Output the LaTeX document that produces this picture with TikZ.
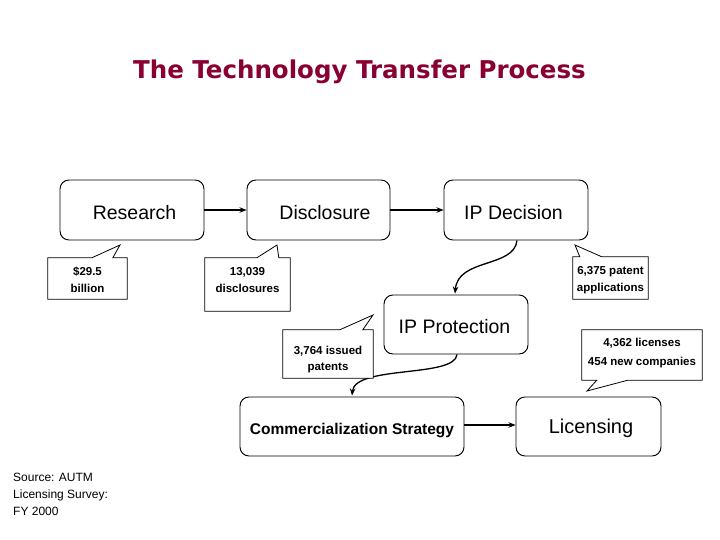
\documentclass[tikz,border=0pt]{standalone}
\usepackage{fontspec}
\setmainfont{Liberation Sans}
\newfontfamily\titlefont{DejaVu Sans}
\usetikzlibrary{arrows.meta,calc}
\definecolor{titlered}{RGB}{137,0,51}
\newcommand\bxtxt[3]{\raisebox{#2}[\height][\depth]{\hspace*{#1}#3}}
\begin{document}
\begin{tikzpicture}[x=1pt,y=-1pt,
  procbox/.style={draw=black,line width=0.95pt,rounded corners=9pt,inner sep=0pt,
    font=\fontsize{19.5}{22}\selectfont},
  cbox/.style={draw=none,inner sep=0pt},
  ctext/.style={align=center,inner sep=0pt,font=\fontsize{11.5}{17}\selectfont\bfseries},
  cline/.style={draw=black,line width=0.8pt,fill=white,line join=miter},
  flow/.style={line width=1.3pt,-{Stealth[length=7pt,width=5.5pt]}}
]
\useasboundingbox (0,0) rectangle (720,540);
\fill[white] (0,0) rectangle (720,540);

\node[font=\titlefont\bfseries\fontsize{24.5}{28}\selectfont,text=titlered,inner sep=0pt] (title) at (359.5,71.5) {The Technology Transfer Process};

% process boxes
\node[procbox,minimum width=144pt,minimum height=60pt] (research) at (132,210) {\bxtxt{5pt}{-2.5pt}{Research}};
\node[procbox,minimum width=143pt,minimum height=60pt] (disclosure) at (318.5,210) {\bxtxt{13pt}{-2.5pt}{Disclosure}};
\node[procbox,minimum width=144pt,minimum height=60pt] (ipdec) at (516,210) {\bxtxt{-5pt}{-2.5pt}{IP Decision}};
\node[procbox,minimum width=144pt,minimum height=59pt] (ipprot) at (456,324.5) {\bxtxt{-3pt}{-2pt}{IP Protection}};
\node[procbox,minimum width=224pt,minimum height=59pt,font=\fontsize{15.5}{18}\selectfont\bfseries] (comm) at (352,426.5) {\bxtxt{0pt}{-4.5pt}{Commercialization Strategy}};
\node[procbox,minimum width=145pt,minimum height=59pt,font=\fontsize{20}{22}\selectfont] (lic) at (588.5,426.5) {\bxtxt{5pt}{-2pt}{Licensing}};

% connectors
\draw[flow] (research.east) -- (disclosure.west);
\draw[flow] (disclosure.east) -- (ipdec.west);
\draw[flow] ($(comm.east)+(0,-1.5)$) -- ($(lic.west)+(0,-1.5)$);
\coordinate (d1) at ($(ipdec.south)+(1,0)$);
\coordinate (p1) at ($(ipprot.north)+(-1,-1)$);
\draw[flow] (d1) .. controls (514,268) and (458,258) .. (p1);
\coordinate (d2) at ($(ipprot.south)+(1,0)$);
\coordinate (p2) at ($(comm.north)+(0,-1)$);
\draw[flow] (d2) .. controls (455,378) and (355,365) .. (p2);

% callouts
\node[cbox,minimum width=79pt,minimum height=41pt] (c1) at (87.5,278.5) {};
\coordinate (t1) at (120,245);
\draw[cline] (c1.north west) -- ($(c1.north west)+(44,0)$) -- (t1) -- ($(c1.north west)+(65,0)$) -- (c1.north east) -- (c1.south east) -- (c1.south west) -- cycle;
\node[ctext] at ($(c1.center)+(0,1.5)$) {\$29.5\\billion};

\node[cbox,minimum width=85pt,minimum height=53pt] (c2) at (247.5,284.5) {};
\coordinate (t2) at (277,245);
\draw[cline] (c2.north west) -- ($(c2.north west)+(52,0)$) -- (t2) -- ($(c2.north west)+(74,0)$) -- (c2.north east) -- (c2.south east) -- (c2.south west) -- cycle;
\node[ctext] at ($(c2.center)+(0,-4.5)$) {13,039\\disclosures};

\node[cbox,minimum width=75pt,minimum height=42pt] (c3) at (610.5,278) {};
\coordinate (t3) at (575,245);
\draw[cline] (c3.north west) -- ($(c3.north west)+(7,0)$) -- (t3) -- ($(c3.north west)+(29,0)$) -- (c3.north east) -- (c3.south east) -- (c3.south west) -- cycle;
\node[ctext] at ($(c3.center)+(0,2.5)$) {6,375 patent\\applications};

\node[cbox,minimum width=90pt,minimum height=48pt] (c4) at (328,354) {};
\coordinate (t4) at (373,315);
\draw[cline] (c4.north west) -- ($(c4.north west)+(57,0)$) -- (t4) -- ($(c4.north west)+(80,0)$) -- (c4.north east) -- (c4.south east) -- (c4.south west) -- cycle;
\node[ctext,font=\fontsize{11.5}{16}\selectfont\bfseries] at ($(c4.center)+(0,5.5)$) {3,764 issued\\patents};

\node[cbox,minimum width=120pt,minimum height=50pt] (c5) at (642,355) {};
\coordinate (t5) at (587,391);
\draw[cline] (c5.north west) -- (c5.north east) -- (c5.south east) -- ($(c5.south west)+(46,0)$) -- (t5) -- ($(c5.south west)+(15,0)$) -- (c5.south west) -- cycle;
\node[ctext,font=\fontsize{11.5}{19}\selectfont\bfseries] at ($(c5.center)+(0,-2)$) {4,362 licenses\\454 new companies};

% source
\node[anchor=north west,align=left,inner sep=0pt,font=\fontsize{12}{17}\selectfont] (src) at (13,473) {Source: AUTM\\Licensing Survey:\\FY 2000};
\end{tikzpicture}
\end{document}
